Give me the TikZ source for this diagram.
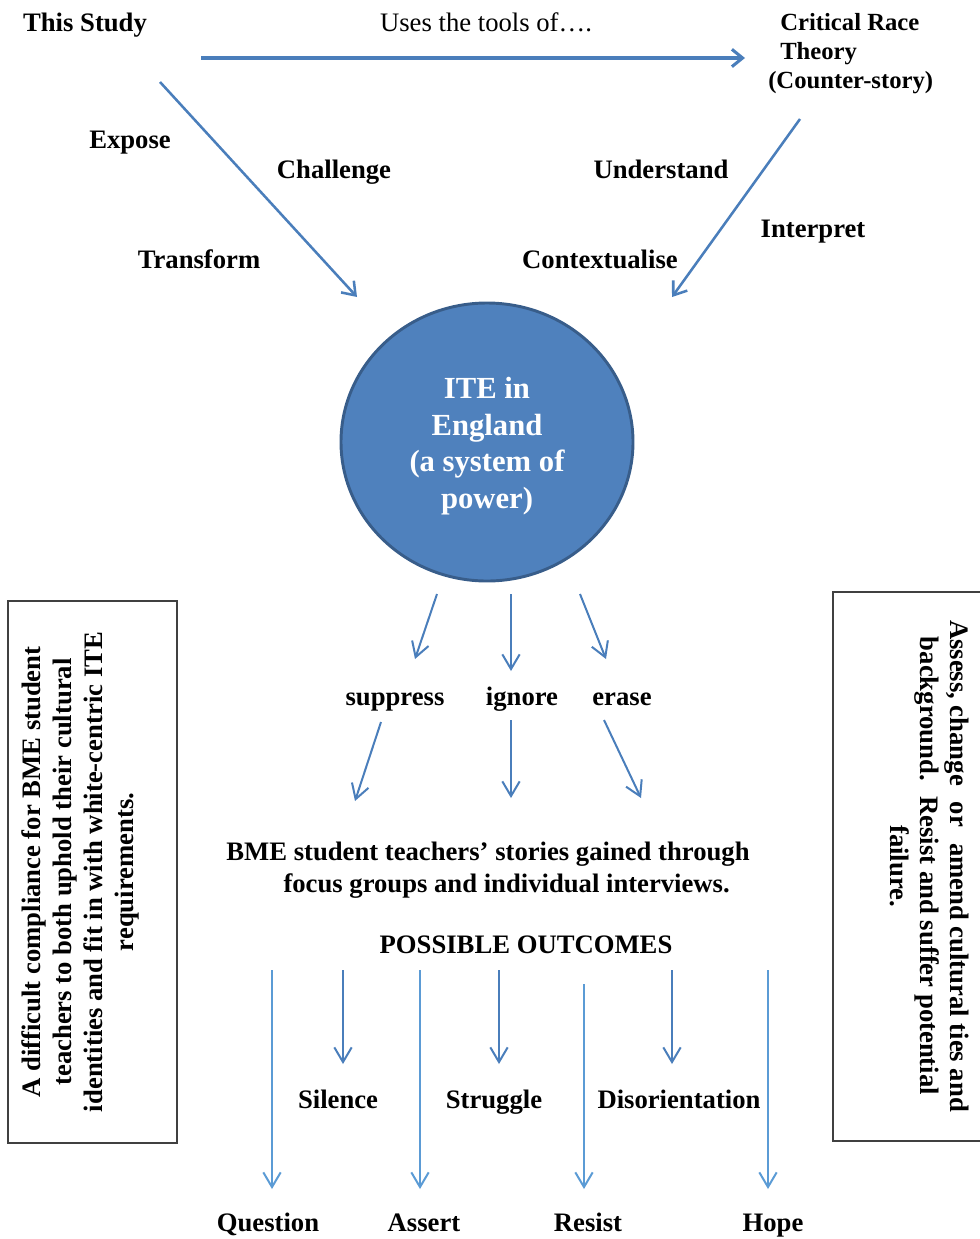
\documentclass[tikz,border=0pt]{standalone}
\usepackage{fontspec}
\setmainfont{Liberation Serif}
\usetikzlibrary{arrows.meta}
\definecolor{arrA}{HTML}{4A7EBB}
\definecolor{arrB}{HTML}{5B9BD5}
\definecolor{circfill}{HTML}{4F81BD}
\definecolor{circline}{HTML}{385D8A}
\tikzset{
  lbl/.style={font=\fontsize{20}{23}\selectfont\bfseries, inner sep=0pt, text height=13.6pt, text depth=0pt},
  lblm/.style={font=\fontsize{20}{24}\selectfont\bfseries, inner sep=0pt},
  arrtop/.style={draw=arrA, line width=2.3pt, -{Straight Barb[length=8pt,width=13pt]}},
  arrdiag/.style={draw=arrA, line width=1.9pt, -{Straight Barb[length=9pt,width=13pt]}},
  arrmid/.style={draw=arrA, line width=1.5pt, -{Straight Barb[length=11pt,width=13pt]}},
  arrlong/.style={draw=arrB, line width=1.5pt, -{Straight Barb[length=11pt,width=13pt]}},
  sidebox/.style={draw=black!75, line width=0.8pt},
}
\begin{document}
\begin{tikzpicture}[x=0.75pt,y=-0.75pt]
\useasboundingbox (0,0) rectangle (979,1239);
% top labels
\node[lbl] (study) at (85,22) {This Study};
\node[lbl, font=\fontsize{20}{23}\selectfont] (uses) at (486,22) {Uses the tools of….};
\node[lblm, font=\fontsize{18.5}{21.5}\selectfont\bfseries, align=left, anchor=base west] (crt) at (780,88) {Critical Race\\Theory\\\hspace*{-9pt}(Counter-story)};
\coordinate (tA) at (201,58);
\coordinate (tB) at (745,58);
\draw[arrtop] (tA) -- (tB);
% diagonal arrows
\coordinate (lA) at (160,82);
\coordinate (lB) at (357,297);
\coordinate (rA) at (800,119);
\coordinate (rB) at (672,297);
\draw[arrdiag] (lA) -- (lB);
\draw[arrdiag] (rA) -- (rB);
\node[lbl] (expose) at (130,139) {Expose};
\node[lbl] (challenge) at (334,169) {Challenge};
\node[lbl] (transform) at (199,259) {Transform};
\node[lbl] (understand) at (661,169) {Understand};
\node[lbl] (interpret) at (813,228.5) {Interpret};
\node[lbl] (context) at (600,259) {Contextualise};
% circle
\draw[fill=circfill, draw=circline, line width=2.2pt] (487,442) ellipse [x radius=146, y radius=139];
\node[font=\fontsize{23}{27.4}\selectfont\bfseries, text=white, align=center, inner sep=0pt] (ite) at (487,446) {ITE in\\England\\(a system of\\power)};
% suppress/ignore/erase
\coordinate (s1a) at (437,594); \coordinate (s1b) at (415,659);
\coordinate (s2a) at (511,594); \coordinate (s2b) at (511,671);
\coordinate (s3a) at (580,594); \coordinate (s3b) at (606,659);
\draw[arrmid] (s1a) -- (s1b);
\draw[arrmid] (s2a) -- (s2b);
\draw[arrmid] (s3a) -- (s3b);
\node[lbl] (suppress) at (395,696) {suppress};
\node[lbl] (ignore) at (522,696) {ignore};
\node[lbl] (erase) at (622,696) {erase};
\coordinate (u1a) at (381,722); \coordinate (u1b) at (355,801);
\coordinate (u2a) at (511,720); \coordinate (u2b) at (511,798);
\coordinate (u3a) at (604,720); \coordinate (u3b) at (641,798);
\draw[arrmid] (u1a) -- (u1b);
\draw[arrmid] (u2a) -- (u2b);
\draw[arrmid] (u3a) -- (u3b);
\node[lblm, align=center, anchor=base] (bme) at (488,892) {BME student teachers’ stories gained through\\\hspace*{28pt}focus groups and individual interviews.};
\node[lbl] (outcomes) at (526,944) {POSSIBLE OUTCOMES};
% outcome arrows
\coordinate (q1) at (272,970); \coordinate (q2) at (272,1189);
\coordinate (a1) at (420,970); \coordinate (a2) at (420,1189);
\coordinate (r1) at (584,984); \coordinate (r2) at (584,1189);
\coordinate (h1) at (768,970); \coordinate (h2) at (768,1189);
\draw[arrlong] (q1) -- (q2);
\draw[arrlong] (a1) -- (a2);
\draw[arrlong] (r1) -- (r2);
\draw[arrlong] (h1) -- (h2);
\coordinate (si1) at (343,970); \coordinate (si2) at (343,1064);
\coordinate (st1) at (499,970); \coordinate (st2) at (499,1064);
\coordinate (di1) at (672,970); \coordinate (di2) at (672,1064);
\draw[arrmid] (si1) -- (si2);
\draw[arrmid] (st1) -- (st2);
\draw[arrmid] (di1) -- (di2);
\node[lbl] (silence) at (338,1099) {Silence};
\node[lbl] (struggle) at (494,1099) {Struggle};
\node[lbl] (disor) at (679,1099) {Disorientation};
\node[lbl] (question) at (268,1222.5) {Question};
\node[lbl] (assert) at (424,1222.5) {Assert};
\node[lbl] (resist) at (588,1222.5) {Resist};
\node[lbl] (hope) at (773,1222.5) {Hope};
% side boxes
\draw[sidebox] (8,601) rectangle (177,1143);
\node[lblm, font=\fontsize{20}{23.25}\selectfont\bfseries, align=center, rotate=90] (leftt) at (80,872) {A difficult compliance for BME student\\teachers to both uphold their cultural\\identities and fit in with white-centric ITE\\requirements.};
\draw[sidebox] (833,592) rectangle (990,1141);
\node[lblm, font=\fontsize{20}{22.5}\selectfont\bfseries, align=center, rotate=-90] (rightt) at (930,866) {\makebox[369pt][l]{Assess, change\hfill or\hfill amend cultural ties and}\\background.~ Resist and suffer potential\\failure.};
\end{tikzpicture}
\end{document}
